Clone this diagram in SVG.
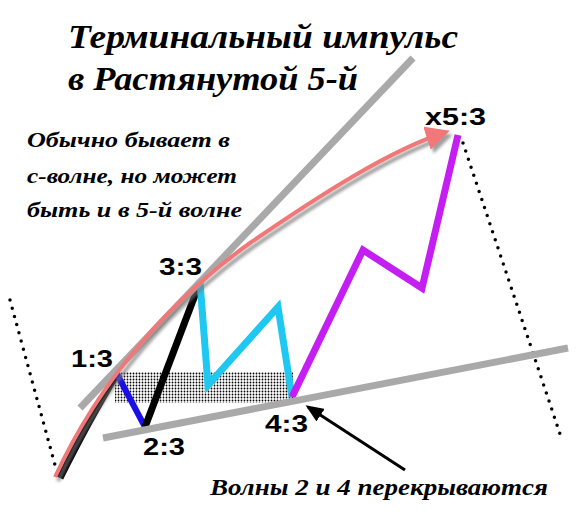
<svg xmlns="http://www.w3.org/2000/svg" width="583" height="524" viewBox="0 0 583 524">
<style>
.script{font-family:"Liberation Serif","DejaVu Serif",serif;font-style:italic;font-weight:bold;fill:#000}
.lbl{font-family:"Liberation Sans",Arial,sans-serif;font-weight:bold;fill:#000;font-size:24px}
.wave{fill:none;stroke-linejoin:miter;stroke-linecap:butt}
.gray{stroke:#a9a9a9;stroke-width:7;fill:none}
.dots{stroke:#000;stroke-width:3.5;stroke-linecap:round;stroke-dasharray:0 8.5;fill:none}
</style>
<defs>
<pattern id="stip" width="3" height="3" patternUnits="userSpaceOnUse">
<circle cx="1.5" cy="1.5" r="0.9" fill="#000"/>
</pattern>
<filter id="sh" x="-10%" y="-10%" width="130%" height="130%">
<feDropShadow dx="3" dy="4" stdDeviation="1.5" flood-color="#777" flood-opacity="0.7"/>
</filter>
<marker id="pinkhead" markerWidth="6" markerHeight="6" refX="5" refY="3" orient="auto" markerUnits="strokeWidth">
<path d="M0,0 L6,3 L0,6 Z" fill="#f07878"/>
</marker>
<marker id="blackhead" markerWidth="6" markerHeight="5" refX="5" refY="2.5" orient="auto" markerUnits="strokeWidth">
<path d="M0,0 L6,2.5 L0,5 Z" fill="#000"/>
</marker>
</defs>
<rect width="583" height="524" fill="#fff"/>

<g id="title">
<text class="script" x="68" y="48" font-size="34" textLength="390" lengthAdjust="spacingAndGlyphs">Терминальный импульс</text>
<text class="script" x="68" y="90" font-size="34" textLength="290" lengthAdjust="spacingAndGlyphs">в Растянутой 5-й</text>
</g>

<g id="note">
<text class="script" x="27" y="147" font-size="22" textLength="203" lengthAdjust="spacingAndGlyphs">Обычно бывает в</text>
<text class="script" x="27" y="183" font-size="22" textLength="210" lengthAdjust="spacingAndGlyphs">с-волне, но может</text>
<text class="script" x="27" y="217" font-size="22" textLength="215" lengthAdjust="spacingAndGlyphs">быть и в 5-й волне</text>
</g>

<g id="overlap-zone">
<rect x="115" y="372" width="178" height="31" fill="url(#stip)"/>
</g>

<g id="connectors">
<line class="dots" x1="10" y1="300" x2="55" y2="465"/>
<line class="dots" x1="463" y1="143" x2="562" y2="440"/>
<path class="wave" d="M60,478 Q90,418 117,374" stroke="#000" stroke-width="7"/>
<path class="wave" d="M117,374 L145,427" stroke="#1a10e6" stroke-width="6"/>
<path class="wave" d="M145,427 L200,282" stroke="#000" stroke-width="7"/>
<path class="wave" d="M200,282 L208,385 L278,307 L292,397" stroke="#1ec8f0" stroke-width="7"/>
<path class="wave" d="M292,397 L363,250 L422,288 L458,135" stroke="#c41ef2" stroke-width="7"/>
<line class="gray" x1="80" y1="408" x2="413" y2="58"/>
<line class="gray" x1="103" y1="438" x2="568" y2="348"/>
<path d="M55,477 C100,380 170,300 250,243 C320,195 390,150 446,132" fill="none" stroke="#f07878" stroke-width="4" filter="url(#sh)" marker-end="url(#pinkhead)"/>
<line x1="405" y1="470" x2="308" y2="407" stroke="#000" stroke-width="3" marker-end="url(#blackhead)"/>
</g>

<g id="label-1-3"><text class="lbl" x="71" y="367" textLength="42" lengthAdjust="spacingAndGlyphs">1:3</text></g>
<g id="label-2-3"><text class="lbl" x="143" y="455" textLength="42" lengthAdjust="spacingAndGlyphs">2:3</text></g>
<g id="label-3-3"><text class="lbl" x="159" y="275" textLength="43" lengthAdjust="spacingAndGlyphs">3:3</text></g>
<g id="label-4-3"><text class="lbl" x="265" y="432" textLength="43" lengthAdjust="spacingAndGlyphs">4:3</text></g>
<g id="label-x5-3"><text class="lbl" x="425" y="125" textLength="61" lengthAdjust="spacingAndGlyphs">x5:3</text></g>

<g id="caption">
<text class="script" x="210" y="495" font-size="24" textLength="338" lengthAdjust="spacingAndGlyphs">Волны 2 и 4 перекрываются</text>
</g>
</svg>
